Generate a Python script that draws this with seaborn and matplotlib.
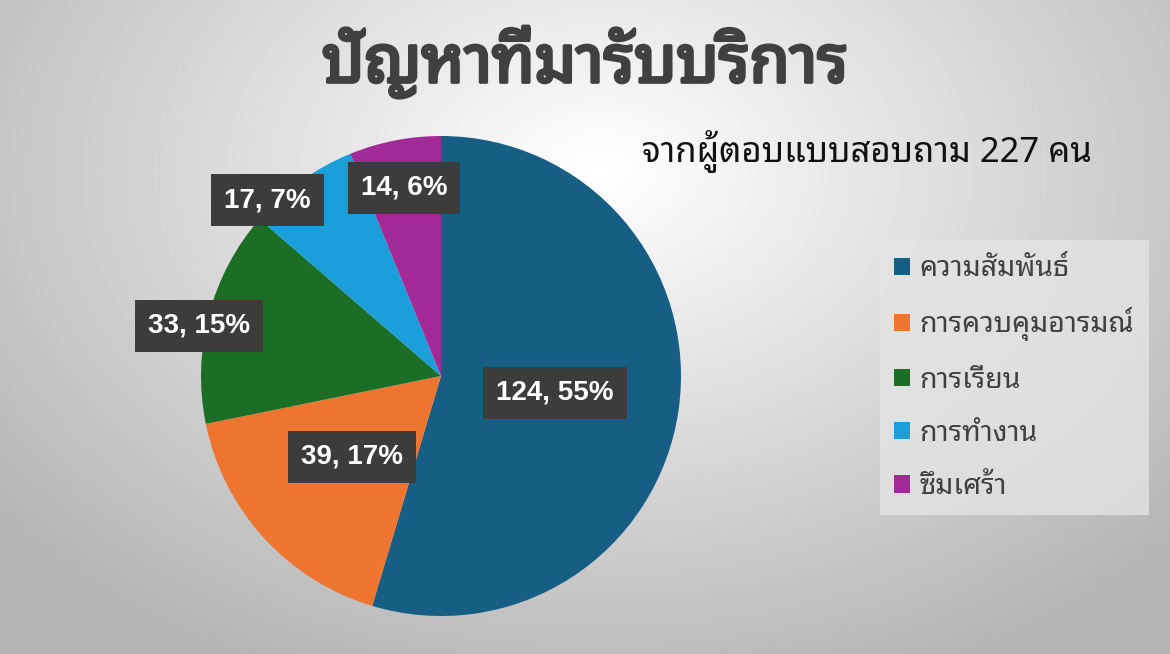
import numpy as np
import pandas as pd
import matplotlib
matplotlib.use("Agg")
import matplotlib.pyplot as plt
import matplotlib.patheffects as pe
import seaborn as sns
from matplotlib import font_manager
from matplotlib.ft2font import FT2Font
from matplotlib.patches import Patch

# data
categories = ['ความสัมพันธ์', 'การควบคุมอารมณ์', 'การเรียน', 'การทำงาน', 'ซึมเศร้า']
counts = [124, 39, 33, 17, 14]
percents = [55, 17, 15, 7, 6]
colors = ['#175e85', '#ed7530', '#1c6e26', '#1a9fdb', '#a12a97']
title = 'ปัญหาที่มารับบริการ'
subtitle = 'จากผู้ตอบแบบสอบถาม 227 คน'

df = pd.DataFrame({'cat': categories, 'n': counts, 'pct': percents})

# find a font that has Thai glyphs
thai_fonts = []
for f in font_manager.fontManager.ttflist:
    try:
        if 0x0E01 in FT2Font(f.fname).get_charmap():
            thai_fonts.append(f.name)
    except Exception:
        pass
pref = [n for n in thai_fonts if 'Noto' in n] + thai_fonts
thai = pref[0] if pref else 'DejaVu Sans'

sns.set_theme(style='white')
plt.rcParams['font.family'] = [thai, 'DejaVu Sans']

fig = plt.figure(figsize=(11.7, 6.54), dpi=100)

# background radial gradient
bg = fig.add_axes([0, 0, 1, 1], zorder=0)
yy, xx = np.mgrid[0:654, 0:1170]
d = np.sqrt(((xx - 600) / 850.0) ** 2 + ((yy - 170) / 600.0) ** 2)
g = np.clip(1.0 - 0.32 * d, 0.70, 1.0)
bg.imshow(g, cmap='gray', vmin=0, vmax=1, aspect='auto', extent=[0, 1, 0, 1], origin='upper')
bg.axis('off')

ax = fig.add_axes([201 / 1170, (654 - 376 - 240) / 654, 480 / 1170, 480 / 654], zorder=1)
wedges, _ = ax.pie(df['n'], colors=sns.color_palette(colors), startangle=90, counterclock=False,
                   radius=1, wedgeprops=dict(linewidth=0))
ax.set_xlim(-1, 1)
ax.set_ylim(-1, 1)
ax.axis('off')

# data label placement (radius, angle shift)
label_r = [0.48, 0.50, 1.03, 1.03, 0.80]
label_shift = [0, 0, 3, 9, 0]
for w, r, s, n, p in zip(wedges, label_r, label_shift, df['n'], df['pct']):
    ang = np.deg2rad((w.theta1 + w.theta2) / 2 + s)
    ax.text(r * np.cos(ang), r * np.sin(ang), f'{n}, {p}%', ha='center', va='center',
            color='white', fontsize=20, fontweight='bold',
            family=['Liberation Sans Narrow', 'Liberation Sans', 'DejaVu Sans'],
            bbox=dict(boxstyle='square,pad=0.47', facecolor='#3c3c3c', edgecolor='none'),
            zorder=5)

fig.text(0.5, 0.905, title, ha='center', va='center', fontsize=47, fontweight='bold', color='#404040',
         path_effects=[pe.withStroke(linewidth=2.5, foreground='#404040')])
fig.text(0.741, 0.768, subtitle, ha='center', va='center', fontsize=25, color='#111111')

handles = [Patch(facecolor=c, edgecolor='none') for c in colors]
leg = fig.legend(handles, categories, loc='upper left', bbox_to_anchor=(880 / 1170, 1 - 240 / 654),
                 fontsize=20.5, frameon=True, fancybox=False, borderaxespad=0,
                 handlelength=0.55, handleheight=0.55, handletextpad=0.35, labelspacing=0.85,
                 borderpad=0.5)
leg.get_frame().set_facecolor('#e4e4e4')
leg.get_frame().set_edgecolor('none')
for t in leg.get_texts():
    t.set_color('#404040')

fig.savefig('out.png', dpi=100)
